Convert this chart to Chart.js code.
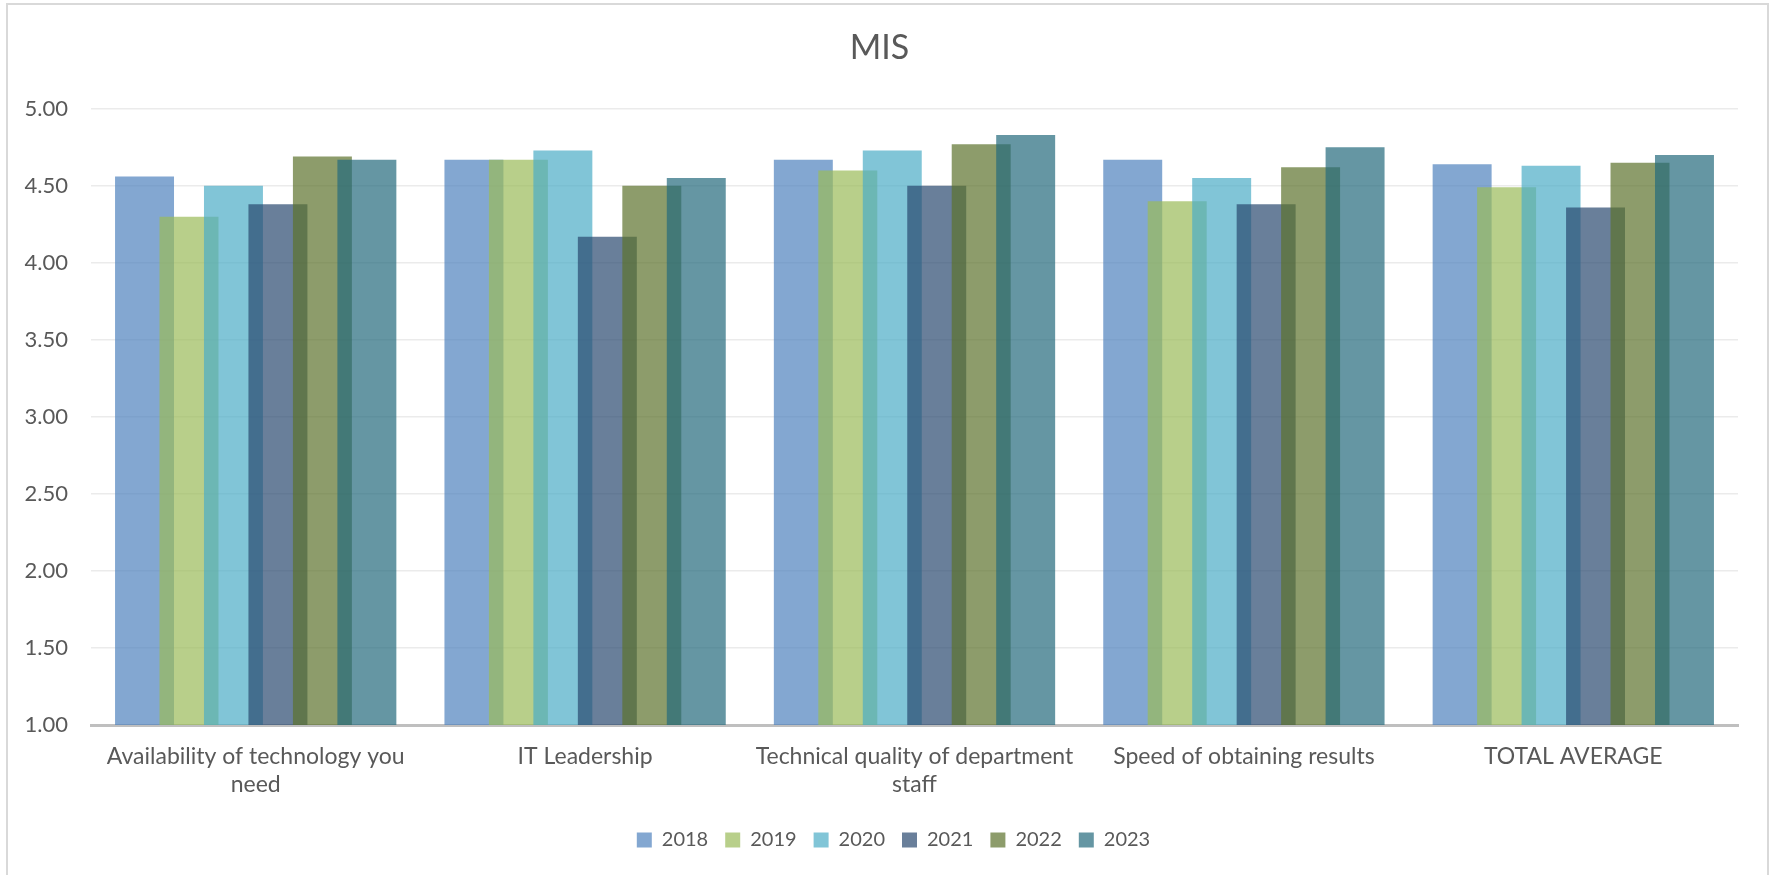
<!DOCTYPE html>
<html>
<head>
<meta charset="utf-8">
<title>MIS</title>
<script src="https://cdn.jsdelivr.net/npm/chart.js@4/dist/chart.umd.min.js"></script>
<style>
    body { margin: 0; background: #fff; overflow: hidden; }
    #frame { position: absolute; left: 6px; top: 3px; width: 1759px; height: 900px; border: 2px solid #d9d9d9; }
    #misChart { position: absolute; left: 0; top: 0; }
</style>
</head>
<body>
<div id="frame"></div>
<canvas id="misChart" width="1776" height="875"></canvas>
<script>
// Data for the chart
const categories = [
    ['Availability of technology you', 'need'],
    'IT Leadership',
    ['Technical quality of department', 'staff'],
    'Speed of obtaining results',
    'TOTAL AVERAGE'
];
const years = ['2018', '2019', '2020', '2021', '2022', '2023'];

const values2018 = [4.56, 4.67, 4.67, 4.67, 4.64];
const values2019 = [4.30, 4.67, 4.60, 4.40, 4.49];
const values2020 = [4.50, 4.73, 4.73, 4.55, 4.63];
const values2021 = [4.38, 4.17, 4.50, 4.38, 4.36];
const values2022 = [4.69, 4.50, 4.77, 4.62, 4.65];
const values2023 = [4.67, 4.55, 4.83, 4.75, 4.70];

const yTicks = [1.00, 1.50, 2.00, 2.50, 3.00, 3.50, 4.00, 4.50, 5.00];

// Excel-ish colours, 30% transparent
const colors = [
    'rgba(79, 129, 189, 0.7)',
    'rgba(154, 187, 89, 0.7)',
    'rgba(75, 172, 198, 0.7)',
    'rgba(42, 72, 111, 0.7)',
    'rgba(92, 114, 44, 0.7)',
    'rgba(35, 105, 124, 0.7)'
];

const allValues = [values2018, values2019, values2020, values2021, values2022, values2023];

const misData = {
    labels: categories,
    datasets: years.map((y, i) => ({
        label: y,
        data: allValues[i],
        backgroundColor: colors[i],
        borderWidth: 0
    }))
};

// later series are painted on top (Chart.js paints the first one last by default)
const forwardDrawOrder = {
    id: 'forwardDrawOrder',
    beforeDatasetsDraw(chart) {
        const ctx = chart.ctx;
        const a = chart.chartArea;
        ctx.save();
        ctx.beginPath();
        ctx.rect(a.left, a.top, a.right - a.left, a.bottom - a.top);
        ctx.clip();
        chart.getSortedVisibleDatasetMetas().forEach(meta => meta.controller.draw());
        ctx.restore();
        return false;
    }
};

// legend sits a bit right of centre in the original
const legendShift = {
    id: 'legendShift',
    afterLayout(chart) {
        chart.legend.left += 14;
        chart.legend.right += 14;
    }
};

const textColor = '#595959';
const fontFamily = 'Lato, "Open Sans", sans-serif';

const configMis = {
    type: 'bar',
    data: misData,
    plugins: [forwardDrawOrder, legendShift],
    options: {
        responsive: false,
        animation: false,
        layout: {
            padding: { left: 21, right: 38, top: 0, bottom: 15 }
        },
        datasets: {
            bar: {
                barPercentage: 1.326,
                categoryPercentage: 0.81
            }
        },
        plugins: {
            title: {
                display: true,
                text: 'MIS',
                color: textColor,
                font: { family: fontFamily, size: 34, weight: 'normal' },
                padding: { top: 28, bottom: 40 }
            },
            legend: {
                position: 'bottom',
                labels: {
                    color: textColor,
                    font: { family: fontFamily, size: 20 },
                    boxWidth: 15,
                    boxHeight: 15,
                    padding: 17
                }
            },
            tooltip: { enabled: false }
        },
        scales: {
            x: {
                grid: { display: false },
                border: { display: true, color: '#bfbfbf', width: 3 },
                ticks: {
                    color: textColor,
                    font: { family: fontFamily, size: 23 },
                    maxRotation: 0,
                    autoSkip: false,
                    padding: 10
                },
                afterFit: scale => { scale.height = 88; }
            },
            y: {
                min: 1,
                max: 5,
                afterBuildTicks: scale => {
                    scale.ticks = yTicks.map(v => ({ value: v }));
                },
                grid: { color: '#ebebeb', lineWidth: 1.5, drawTicks: false },
                border: { display: false },
                ticks: {
                    color: textColor,
                    font: { family: fontFamily, size: 22 },
                    padding: 23,
                    callback: v => Number(v).toFixed(2)
                },
                afterFit: scale => { scale.width = 70; }
            }
        }
    }
};

// Render the chart
window.onload = function() {
    const ctxMis = document.getElementById('misChart').getContext('2d');
    new Chart(ctxMis, configMis);
};
</script>
</body>
</html>
